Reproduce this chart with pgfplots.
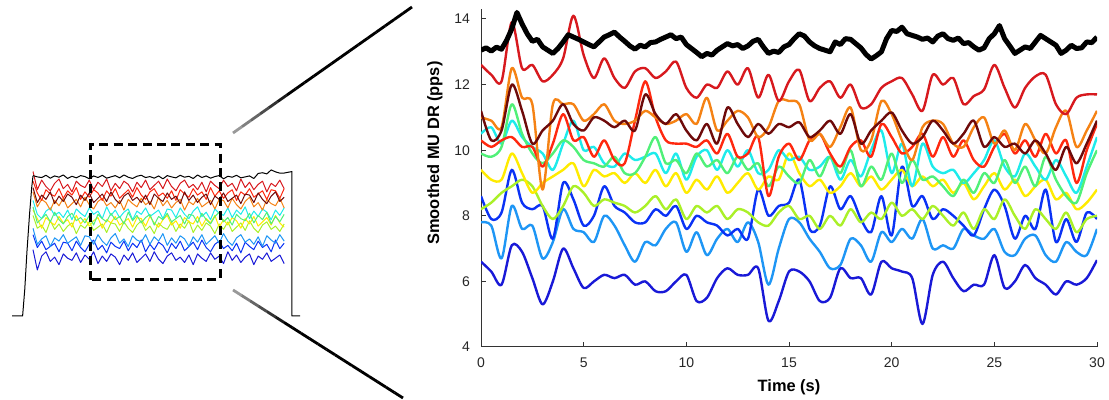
\documentclass[border=0pt]{standalone}
\usepackage{fontspec}
\setmainfont{Liberation Sans}
\usepackage{pgfplots}
\pgfplotsset{compat=1.18}
\usepackage{pgfplotstable}
\usetikzlibrary{calc}

\definecolor{cR1}{RGB}{215,25,30}
\definecolor{cMR}{RGB}{110,10,10}
\definecolor{cOR}{RGB}{245,130,20}
\definecolor{cR2}{RGB}{255,40,15}
\definecolor{cGR}{RGB}{80,240,120}
\definecolor{cCY}{RGB}{30,235,235}
\definecolor{cYE}{RGB}{255,235,0}
\definecolor{cYG}{RGB}{170,240,40}
\definecolor{cBL}{RGB}{10,50,245}
\definecolor{cLB}{RGB}{30,150,245}
\definecolor{cDB}{RGB}{25,25,215}

% zoomed 30 s window, smoothed discharge rates (pps)
\pgfplotstableread{
t r1 mr or r2 gr cy ye yg bl lb db
0 12.6 11.2 11.0 10.3 9.9 10.5 9.4 8.2 8.6 7.8 6.6
0.5 12.3 10.3 10.9 10.1 9.8 10.7 9.1 8.4 7.9 7.7 6.3
1 12.1 10.6 10.7 10.3 10.1 10.2 9.1 8.7 8.1 6.7 5.9
1.5 13.9 12.0 12.5 10.4 11.4 10.9 9.9 8.9 9.4 8.3 7.1
2 12.5 11.2 11.6 10.1 10.5 10.4 9.3 9.1 8.4 7.6 6.9
2.5 12.6 10.2 11.4 10.1 9.9 10.1 8.7 8.9 8.2 7.7 6.1
3 12.1 10.6 8.8 9.5 9.6 9.9 9.0 8.3 8.3 6.7 5.3
3.5 12.3 10.9 11.4 10.2 9.9 9.4 9.2 7.9 7.3 7.2 6.0
4 12.8 11.4 11.4 11.1 10.3 10.2 9.4 8.3 9.0 8.2 7.0
4.5 14.1 10.8 11.4 10.3 10.1 10.9 9.6 8.9 8.5 7.6 6.4
5 12.9 10.6 10.9 10.4 9.7 10.0 8.9 8.7 7.7 7.5 5.8
5.5 12.2 11.0 11.1 9.8 9.6 10.1 9.4 8.3 8.0 7.2 6.0
6 12.8 10.9 11.4 10.3 9.5 9.6 9.2 8.5 8.9 8.0 6.2
6.5 12.2 10.7 10.9 9.7 9.8 9.5 9.3 8.4 8.3 7.7 6.1
7 11.9 10.9 10.8 9.6 9.3 9.9 9.0 8.3 8.1 7.1 6.2
7.5 12.4 10.6 10.9 10.9 9.3 9.7 9.3 8.1 7.8 6.6 5.9
8 12.5 11.7 11.2 12.1 9.8 9.8 9.0 8.3 7.8 7.2 6.0
8.5 12.2 11.1 11.0 11.0 10.4 9.9 9.4 8.6 8.2 7.1 5.7
9 12.4 10.8 10.8 10.3 9.6 9.3 8.9 8.2 8.0 7.6 5.7
9.5 12.7 11.1 10.9 10.2 9.7 9.9 9.3 8.5 8.3 7.8 6.0
10 11.9 10.6 11.1 10.2 9.3 9.1 8.7 7.9 7.6 6.9 6.2
10.5 11.6 10.3 10.8 10.1 9.9 9.8 9.1 8.3 8.0 7.5 5.4
11 12.0 10.8 11.6 10.3 9.5 10.0 8.8 8.1 7.8 6.8 5.5
11.5 11.9 10.2 10.6 9.9 9.7 9.4 9.2 8.3 7.7 7.3 6.1
12 12.4 11.3 10.9 10.5 9.3 10.0 8.7 7.9 7.4 7.6 6.4
12.5 12.0 10.8 11.2 9.8 9.8 9.5 9.0 8.2 7.6 7.2 6.2
13 12.5 10.4 11.0 9.9 9.4 10.0 9.3 8.1 7.3 7.8 6.2
13.5 11.6 10.8 10.4 10.4 9.6 9.3 8.8 7.8 8.8 7.2 6.4
14 12.3 10.5 10.7 8.6 8.9 9.4 9.2 7.7 8.0 5.9 4.8
14.5 11.5 10.8 11.5 9.8 9.5 10.0 9.1 8.1 8.3 7.0 5.4
15 12.1 10.7 11.5 10.2 9.2 9.7 9.9 8.3 8.4 7.9 6.3
15.5 12.45 10.85 11.4 9.7 9.0 9.8 9.3 7.9 9.1 7.8 6.3
16 11.5 10.4 10.3 10.3 9.7 9.4 8.9 8.0 7.6 7.3 6.0
16.5 11.9 10.6 10.5 10.5 9.2 9.5 9.1 7.6 7.7 6.9 5.4
17 12.1 10.9 10.1 9.9 9.8 9.8 8.7 8.0 8.9 6.4 5.5
17.5 11.6 10.5 10.7 9.5 9.3 9.1 8.9 7.7 8.2 6.5 6.4
18 12.0 11.1 11.3 10.1 10.0 9.7 9.3 8.2 8.6 7.3 6.1
18.5 11.3 10.2 10.0 10.3 8.9 9.2 8.9 7.8 7.9 7.1 6.1
19 11.4 10.6 10.3 9.8 9.5 10.0 9.2 8.1 7.5 6.6 5.6
19.5 11.9 10.9 11.5 10.8 9.1 10.6 8.8 7.9 8.6 7.5 6.6
20 12.1 11.15 11.1 10.4 9.9 9.3 9.1 8.4 7.4 7.2 6.4
20.5 12.2 10.6 10.3 9.9 9.0 10.2 9.4 8.0 9.5 7.6 6.3
21 11.7 10.2 9.7 10.1 9.7 8.9 8.9 8.2 8.3 7.3 6.1
21.5 11.2 10.4 10.7 10.5 9.1 10.2 9.2 7.9 8.6 7.9 4.7
22 12.3 10.9 10.9 9.8 9.2 9.5 8.9 8.3 7.9 7.0 6.2
22.5 12.0 10.6 10.8 10.4 8.9 9.3 9.1 8.0 8.2 7.1 6.6
23 12.2 10.2 10.2 9.8 8.6 9.4 8.7 7.7 8.0 7.0 6.1
23.5 11.4 10.5 10.1 10.3 9.1 9.0 9.0 8.1 7.7 7.6 5.7
24 11.65 10.9 10.7 9.7 8.7 9.3 8.5 7.6 7.4 7.4 5.9
24.5 11.85 10.1 11.0 9.5 9.3 9.7 8.9 8.2 8.2 7.3 5.9
25 12.6 10.4 10.2 10.1 9.0 10.3 9.3 7.9 8.8 7.6 6.8
25.5 11.9 10.1 10.6 10.5 9.7 9.5 8.8 8.5 8.3 6.9 5.8
26 11.3 10.2 10.0 9.9 9.0 9.2 9.1 8.0 7.3 6.8 6.0
26.5 11.9 9.9 10.8 10.3 9.5 9.9 8.6 7.6 8.0 7.3 6.5
27 12.25 10.3 10.3 9.8 8.9 9.5 8.9 8.2 7.6 7.4 6.1
27.5 12.3 9.9 9.9 10.5 9.8 9.1 9.1 7.9 8.8 6.8 5.9
28 11.4 9.4 10.7 9.9 9.1 9.7 8.5 7.6 7.2 6.6 5.6
28.5 11.1 10.1 11.2 10.3 8.6 9.2 8.7 8.1 7.9 7.2 6.0
29 11.6 9.6 10.1 9.0 8.4 8.7 8.2 7.5 7.2 6.9 5.9
29.5 11.7 10.2 10.6 10.0 9.3 9.5 8.4 7.9 8.1 6.8 6.1
30 11.7 10.9 11.2 10.8 10.0 10.4 8.8 8.0 7.9 7.6 6.65
}\zoomdata

% top unit in the zoomed window (noisier, finer sampling)
\pgfplotstableread{
t v
0.00 13.05
0.25 13.12
0.50 13.02
0.75 13.14
1.00 13.08
1.25 13.35
1.50 13.70
1.75 14.20
2.00 13.85
2.25 13.55
2.50 13.32
2.75 13.38
3.00 13.15
3.25 13.05
3.50 12.95
3.75 13.10
4.00 13.30
4.25 13.52
4.50 13.45
4.75 13.38
5.00 13.30
5.25 13.22
5.50 13.15
5.75 13.30
6.00 13.45
6.25 13.52
6.50 13.60
6.75 13.45
7.00 13.32
7.25 13.18
7.50 13.08
7.75 13.20
8.00 13.15
8.25 13.28
8.50 13.30
8.75 13.38
9.00 13.45
9.25 13.52
9.50 13.40
9.75 13.45
10.00 13.22
10.25 13.10
10.50 12.98
10.75 12.85
11.00 12.95
11.25 12.90
11.50 13.05
11.75 13.15
12.00 13.25
12.25 13.18
12.50 13.22
12.75 13.10
13.00 13.18
13.25 13.32
13.50 13.38
13.75 13.15
14.00 12.95
14.25 13.02
14.50 12.98
14.75 13.15
15.00 13.22
15.25 13.40
15.50 13.55
15.75 13.48
16.00 13.30
16.25 13.18
16.50 13.10
16.75 13.05
17.00 13.00
17.25 13.30
17.50 13.22
17.75 13.40
18.00 13.38
18.25 13.25
18.50 13.12
18.75 12.92
19.00 12.78
19.25 12.88
19.50 13.00
19.75 13.40
20.00 13.65
20.25 13.62
20.50 13.75
20.75 13.55
21.00 13.50
21.25 13.45
21.50 13.38
21.75 13.42
22.00 13.30
22.25 13.48
22.50 13.55
22.75 13.40
23.00 13.35
23.25 13.42
23.50 13.25
23.75 13.28
24.00 13.15
24.25 13.05
24.50 13.12
24.75 13.40
25.00 13.55
25.25 13.80
25.50 13.40
25.75 13.18
26.00 12.95
26.25 13.05
26.50 13.15
26.75 13.10
27.00 13.30
27.25 13.50
27.50 13.40
27.75 13.30
28.00 13.20
28.25 12.95
28.50 13.05
28.75 13.20
29.00 13.10
29.25 13.12
29.50 13.30
29.75 13.28
30.00 13.45
}\blackdata

% whole contraction (overview), 1 s steps
\pgfplotstableread{
t k r1 r2 mr or gr cy ye yg lb bl db
0 13.12 13.5 12.6 12.0 11.6 10.2 10.8 9.9 9.4 8.2 7.6 6.2
1 13.00 11.8 11.5 10.6 10.2 8.7 9.5 9.1 8.2 6.7 6.4 4.3
2 12.94 12.7 10.8 11.3 10.9 9.1 9.1 8.2 8.5 7.2 7.0 5.6
3 13.15 12.1 11.8 10.9 10.6 9.5 9.8 9.2 7.8 7.5 6.2 6.0
4 12.88 11.7 11.4 11.6 9.9 8.8 10.1 8.8 8.9 6.5 6.5 5.1
5 13.09 12.4 11.2 10.5 10.8 9.7 9.4 8.5 8.1 7.3 6.8 5.5
6 12.97 12.8 11.9 11.2 10.3 9.0 9.7 9.3 8.6 7.0 6.0 4.8
7 13.18 11.9 11.0 10.7 11.0 8.6 9.2 8.7 7.9 7.6 6.9 5.8
8 12.85 12.3 11.7 11.4 10.1 9.3 9.9 9.0 8.4 6.8 6.8 5.4
9 13.06 11.6 11.3 11.1 10.5 9.6 9.0 8.3 8.7 7.1 6.1 5.2
10 12.91 12.6 12.0 10.4 10.9 8.9 10.0 9.4 7.7 7.4 7.0 5.9
11 13.12 12.2 10.9 11.3 10.2 9.2 9.6 8.6 8.5 6.6 6.4 5.0
12 13.03 12.0 11.6 10.8 11.1 8.7 9.3 9.1 8.2 7.5 6.0 5.7
13 12.82 12.7 11.1 11.5 10.4 9.4 10.1 8.4 8.8 7.4 6.7 5.3
14 13.09 11.8 11.8 10.6 10.0 8.5 9.5 8.9 8.0 6.7 7.1 6.0
15 12.94 12.5 11.5 11.0 10.7 9.5 9.8 9.2 8.3 7.6 6.2 4.9
16 13.15 12.1 10.8 11.4 11.0 9.1 9.1 8.2 8.6 7.0 6.6 5.6
17 12.88 12.8 11.7 10.7 10.3 8.8 10.2 9.0 7.8 6.6 5.9 5.1
18 13.00 11.7 11.2 11.6 10.6 9.6 9.4 8.7 8.7 7.3 6.9 5.8
19 13.12 12.4 11.9 10.9 10.1 9.0 9.9 9.3 8.6 7.7 6.5 5.5
20 12.91 11.9 11.0 10.5 10.8 9.3 9.2 8.5 7.9 6.8 6.3 4.8
21 13.18 12.6 11.4 11.2 9.9 8.6 9.7 8.8 8.8 7.2 7.0 5.7
22 12.97 12.3 11.8 11.5 10.9 9.7 10.0 9.1 8.2 6.5 6.1 5.2
23 12.85 11.6 11.1 10.8 10.5 8.9 9.0 8.3 7.8 7.5 6.8 5.9
24 13.06 12.5 12.0 11.1 10.2 9.4 9.8 9.2 8.5 7.1 6.4 5.0
25 13.15 12.0 11.3 10.6 11.0 8.7 9.5 9.1 8.9 6.9 7.1 5.4
26 12.94 12.7 10.9 11.3 10.4 9.2 10.1 8.4 8.0 7.6 6.0 5.8
27 13.03 11.8 11.6 10.4 10.7 9.5 9.3 9.3 8.4 6.7 6.7 5.1
28 12.88 12.2 11.9 11.4 10.0 8.5 9.6 8.7 7.7 7.4 6.2 6.0
29 13.09 12.6 11.2 11.0 11.1 9.3 9.9 8.3 8.7 7.0 6.9 5.3
30 12.82 11.9 11.5 10.7 10.3 9.0 9.1 9.0 8.3 7.7 6.6 4.9
31 13.12 12.8 11.0 11.5 10.8 9.6 10.0 9.4 8.1 6.6 5.9 5.6
32 13.00 12.1 11.7 10.9 10.1 8.8 9.9 8.5 8.8 7.3 6.8 5.9
33 12.91 11.7 10.8 11.2 10.6 9.1 9.2 8.9 7.9 6.8 6.3 5.2
34 13.15 12.4 11.8 10.5 10.9 9.4 10.1 8.2 8.6 7.5 7.0 5.5
35 12.97 12.7 11.4 11.6 9.9 8.6 9.5 9.2 8.2 7.2 6.1 5.0
36 13.06 12.0 11.1 10.8 10.7 9.5 9.1 8.8 8.9 6.5 6.5 5.7
37 12.85 12.3 11.9 11.3 10.4 9.4 9.8 8.6 7.8 7.4 6.9 4.8
38 13.18 11.8 11.3 10.6 11.0 8.7 10.2 9.3 8.5 6.9 6.2 5.8
39 12.94 12.5 11.6 11.1 10.2 9.6 9.3 8.4 8.0 7.6 7.1 5.4
40 13.09 11.6 10.9 11.4 10.5 9.0 9.7 9.1 8.7 6.7 6.4 5.1
41 12.88 12.6 12.0 10.4 10.8 8.6 9.0 8.7 8.4 7.1 6.0 5.9
42 13.03 12.2 11.2 11.2 10.0 9.3 10.0 9.4 7.7 7.5 6.7 5.3
43 13.12 11.9 11.7 10.9 10.9 9.7 9.6 8.3 8.6 6.8 7.0 5.6
44 12.82 12.7 11.0 11.5 10.8 8.8 9.4 9.0 8.1 7.7 6.3 4.9
45 13.06 12.1 11.5 10.7 10.1 9.2 10.1 8.5 8.8 7.0 6.6 6.0
46 12.97 12.4 11.8 11.0 11.0 8.5 9.2 9.2 7.9 6.6 6.1 5.2
47 13.15 11.7 10.8 11.3 10.4 9.5 9.9 8.9 8.3 7.3 6.8 5.7
48 12.91 12.8 11.6 10.5 10.0 9.1 9.5 8.2 8.7 7.6 5.9 5.0
49 13.00 12.0 11.3 11.4 10.7 8.9 10.2 9.1 8.0 6.9 6.9 5.5
50 13.09 12.5 11.9 11.3 11.1 9.6 9.1 8.6 8.9 7.2 6.5 5.8
51 12.85 11.8 11.1 10.6 10.2 8.7 9.8 9.3 8.2 6.7 6.2 4.8
52 13.32 12.3 11.4 11.5 10.6 9.4 9.3 8.4 7.8 7.4 7.0 5.6
53 13.39 12.6 11.7 10.9 9.9 9.0 10.0 8.8 8.5 6.5 6.4 5.3
54 13.28 11.6 10.9 10.5 10.9 9.7 9.7 9.2 8.8 7.5 6.7 5.9
55 13.65 12.4 11.8 11.2 10.5 8.6 9.0 8.5 8.1 7.1 6.0 5.1
56 13.47 12.1 11.7 11.6 10.3 9.3 9.9 9.4 8.4 6.8 7.1 5.4
57 13.35 12.7 11.0 10.7 11.0 8.8 9.4 8.7 7.9 7.6 6.3 5.7
58 13.36 11.9 11.9 11.1 10.1 9.5 10.1 8.3 8.6 7.0 6.8 4.9
}\overdata

\begin{document}
\begin{tikzpicture}
\path[use as bounding box] (0,0) rectangle (554.5pt,200pt);

% ---- overview of the whole contraction ----
\begin{axis}[
    at={(5.675pt,42pt)}, anchor=south west,
    x=2.165pt, y=5.35pt,
    xmin=-5, xmax=62, ymin=0, ymax=16.5,
    enlargelimits=false, hide axis, clip=false,
    every axis plot/.append style={line width=0.5pt, line join=round},
]
\addplot[cDB] table[x=t,y=db]{\overdata};
\addplot[cBL] table[x=t,y=bl]{\overdata};
\addplot[cLB] table[x=t,y=lb]{\overdata};
\addplot[cYG] table[x=t,y=yg]{\overdata};
\addplot[cYE] table[x=t,y=ye]{\overdata};
\addplot[cCY] table[x=t,y=cy]{\overdata};
\addplot[cGR] table[x=t,y=gr]{\overdata};
\addplot[cOR] table[x=t,y=or]{\overdata};
\addplot[cR2] table[x=t,y=r2]{\overdata};
\addplot[cMR] table[x=t,y=mr]{\overdata};
\addplot[cR1] table[x=t,y=r1]{\overdata};
\addplot[black] coordinates {(-4.8,0)(-2.4,0)(-1.9,2.5)(-1.4,6)(-0.8,9.5)(-0.3,12)(0,13.1)};
\addplot[black] table[x=t,y=k]{\overdata};
\addplot[black] coordinates {(58,13.36)(59.8,13.5)(59.8,0)(61.7,0)};
\draw[line width=1.5pt, dash pattern=on 4.5pt off 2.7pt]
    (axis cs:13.2,3.4) rectangle (axis cs:43.2,16);
\end{axis}

% ---- zoom connectors ----
\coordinate (A1) at (116.5pt,133.5pt); \coordinate (B1) at (206pt,196.5pt);
\coordinate (A2) at (116.5pt,55pt);    \coordinate (B2) at (201.5pt,1pt);
\foreach \i in {0,...,19}{
  \pgfmathtruncatemacro\c{min(100,40+\i*10)}
  \draw[line width=1.4pt, black!\c] ($(A1)!\i/20!(B1)$) -- ($(A1)!{(\i+1)/20}!(B1)$);
  \draw[line width=1.4pt, black!\c] ($(A2)!\i/20!(B2)$) -- ($(A2)!{(\i+1)/20}!(B2)$);
}

% ---- zoomed window ----
\begin{axis}[
    at={(240.5pt,26.5pt)}, anchor=south west,
    x=10.2667pt, y=16.4pt,
    xmin=0, xmax=30, ymin=4, ymax=14.3,
    enlargelimits=false,
    axis x line*=bottom, axis y line*=left,
    axis line style={-, black!80, line width=0.5pt},
    xtick={0,5,...,30}, ytick={4,6,...,14},
    tick align=inside, major tick length=2.5pt,
    tick style={black!80, line width=0.5pt},
    ticklabel style={font=\fontsize{7}{8}\selectfont, text=black!85},
    /pgf/number format/assume math mode=true,
    xticklabel style={yshift=-2pt},
    yticklabel style={xshift=-2pt},
    every axis plot/.append style={line width=1.2pt, line join=round},
]
\addplot[cDB, smooth] table[x=t,y=db]{\zoomdata};
\addplot[cLB, smooth] table[x=t,y=lb]{\zoomdata};
\addplot[cBL, smooth] table[x=t,y=bl]{\zoomdata};
\addplot[cYG, smooth] table[x=t,y=yg]{\zoomdata};
\addplot[cYE, smooth] table[x=t,y=ye]{\zoomdata};
\addplot[cCY, smooth] table[x=t,y=cy]{\zoomdata};
\addplot[cGR, smooth] table[x=t,y=gr]{\zoomdata};
\addplot[cR2, smooth] table[x=t,y=r2]{\zoomdata};
\addplot[cOR, smooth] table[x=t,y=or]{\zoomdata};
\addplot[cMR, smooth] table[x=t,y=mr]{\zoomdata};
\addplot[cR1, smooth] table[x=t,y=r1]{\zoomdata};
\addplot[black, line width=2.5pt] table[x=t,y=v]{\blackdata};
\end{axis}

\node[font=\fontsize{8.2}{10}\selectfont\bfseries, rotate=90] at (217.5pt,123.5pt) {Smoothed MU DR (pps)};
\node[font=\fontsize{8.2}{10}\selectfont\bfseries] at (394.5pt,6.5pt) {Time (s)};
\end{tikzpicture}
\end{document}
